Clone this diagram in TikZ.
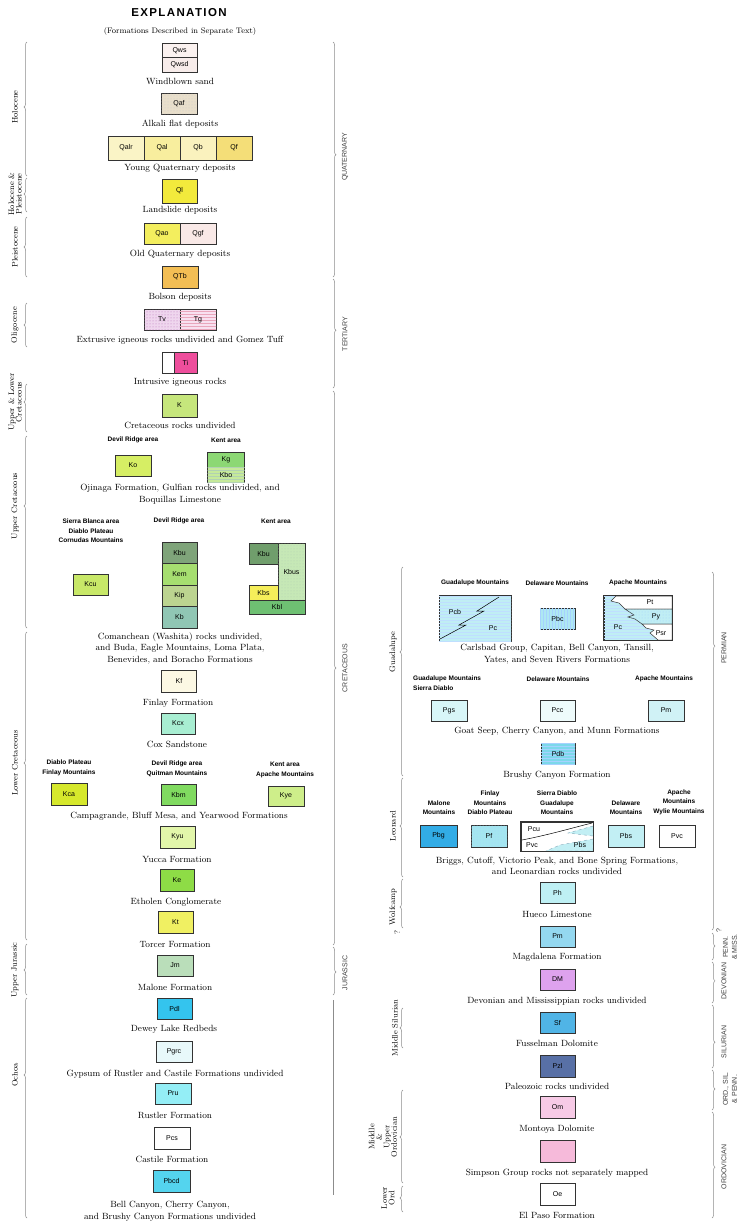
\documentclass[tikz,border=0pt]{standalone}
\usepackage{fontspec}
\setsansfont{Liberation Sans}
\newfontfamily\titlefont[LetterSpace=12]{Liberation Sans}
\usepackage{xcolor}
\usepackage{tikz}
\usetikzlibrary{patterns, decorations.pathreplacing}

\definecolor{cQws}{HTML}{FBF2F0}
\definecolor{cQwsd}{HTML}{F7ECEA}
\definecolor{cQaf}{HTML}{E9DFCB}
\definecolor{cQalr}{HTML}{FAF4C6}
\definecolor{cQal}{HTML}{F8EE9E}
\definecolor{cQb}{HTML}{FAF2BE}
\definecolor{cQf}{HTML}{F4DE78}
\definecolor{cQl}{HTML}{F2EA3C}
\definecolor{cQao}{HTML}{F3EE5E}
\definecolor{cQgf}{HTML}{F9E9E7}
\definecolor{cQTb}{HTML}{F3BE54}
\definecolor{cTv}{HTML}{EFD6EE}
\definecolor{cTg}{HTML}{F8E0F0}
\definecolor{cTi}{HTML}{EE4E9C}
\definecolor{cK}{HTML}{C6E67C}
\definecolor{cKo}{HTML}{D6EE64}
\definecolor{cKg}{HTML}{8CD874}
\definecolor{cKbo}{HTML}{C6EA9A}
\definecolor{cKcu}{HTML}{C8E868}
\definecolor{cKbuD}{HTML}{7FA47A}
\definecolor{cKem}{HTML}{A6DE70}
\definecolor{cKip}{HTML}{BCD490}
\definecolor{cKb}{HTML}{90C6B4}
\definecolor{cKbuK}{HTML}{709E6C}
\definecolor{cKbus}{HTML}{C6E8B6}
\definecolor{cKbs}{HTML}{F5EE5A}
\definecolor{cKbl}{HTML}{6EC072}
\definecolor{cKf}{HTML}{FCF8E4}
\definecolor{cKcx}{HTML}{A8EED2}
\definecolor{cKca}{HTML}{D6E82C}
\definecolor{cKbm}{HTML}{80DA60}
\definecolor{cKye}{HTML}{CEEE8A}
\definecolor{cKyu}{HTML}{E2F6AA}
\definecolor{cKe}{HTML}{8EDC46}
\definecolor{cKt}{HTML}{F0F062}
\definecolor{cJm}{HTML}{BADEBA}
\definecolor{cPdl}{HTML}{34C4EE}
\definecolor{cPgrc}{HTML}{E8F8FA}
\definecolor{cPru}{HTML}{94EEF6}
\definecolor{cPbcd}{HTML}{54D4EE}
\definecolor{cPcap}{HTML}{C0EEF4}
\definecolor{cPbc}{HTML}{AEE8F2}
\definecolor{cPgs}{HTML}{D8F6F8}
\definecolor{cPcc}{HTML}{EEFBFB}
\definecolor{cPm}{HTML}{D0F2F6}
\definecolor{cPdb}{HTML}{7CD8EA}
\definecolor{cPbg}{HTML}{32ACE6}
\definecolor{cPf}{HTML}{A4E6F0}
\definecolor{cPbs}{HTML}{C2EFF4}
\definecolor{cPh}{HTML}{BEF0F4}
\definecolor{cPmg}{HTML}{94D8F0}
\definecolor{cDM}{HTML}{DEA2EE}
\definecolor{cSf}{HTML}{50B4E6}
\definecolor{cPz}{HTML}{5870A6}
\definecolor{cOm}{HTML}{F7CAE6}
\definecolor{cOs}{HTML}{F6BADA}

\begin{document}
\begin{tikzpicture}[x=1pt, y=-1pt]

\tikzset{
    unit/.style={rectangle, draw=black!80, line width=0.6pt, fill=#1, minimum width=36pt,
                 minimum height=22pt, inner sep=0pt, font=\sffamily\fontsize{7}{8}\selectfont},
    lbl/.style={inner sep=0pt, font=\sffamily\fontsize{7}{8}\selectfont},
    captxt/.style={font=\fontsize{9}{11.5}\selectfont, align=center, inner sep=0pt},
    area/.style={font=\sffamily\bfseries\fontsize{6.5}{9.5}\selectfont, align=center, inner sep=0pt},
    age/.style={font=\fontsize{8}{7.5}\selectfont, rotate=90, align=center, inner sep=0pt},
    period/.style={font=\sffamily\fontsize{7}{9}\selectfont, rotate=90, align=center,
                   inner sep=0pt, text=black!75},
    brc/.style={draw=black!45, line width=0.5pt, decorate,
                decoration={brace, amplitude=3pt, aspect=#1}},
    hlines/.style={postaction={pattern=horizontal lines, pattern color=#1}},
    vlines/.style={postaction={pattern=vertical lines, pattern color=#1}},
    stipple/.style={postaction={pattern=dots, pattern color=#1}}
}

\fill[white] (0,0) rectangle (749,1224);
\useasboundingbox (0,0) rectangle (749,1224);

% ── title ──
\node[font=\titlefont\bfseries\fontsize{11.5}{13}\selectfont] (title) at (179, 13) {EXPLANATION};
\node[captxt, font=\fontsize{8}{10}\selectfont] (subtitle) at (180, 31) {(Formations Described in Separate Text)};

% ── Quaternary and Tertiary ──
\node[unit=cQws, minimum width=35pt, minimum height=14.5pt]  (Qws)  at (179.5, 50.5) {Qws};
\node[unit=cQwsd, minimum width=35pt, minimum height=14.5pt] (Qwsd) at (179.5, 65)   {Qwsd};
\node[captxt] (T1) at (180, 81) {Windblown sand};

\node[unit=cQaf, minimum height=21pt, stipple=black!20] (Qaf) at (179, 104) {Qaf};
\node[captxt] (T2) at (180, 124) {Alkali flat deposits};

\node[unit=cQalr, minimum height=24pt] (Qalr) at (126, 148) {Qalr};
\node[unit=cQal, minimum height=24pt]  (Qal)  at (162, 148) {Qal};
\node[unit=cQb, minimum height=24pt]   (Qb)   at (198, 148) {Qb};
\node[unit=cQf, minimum height=24pt]   (Qf)   at (234, 148) {Qf};
\node[captxt] (T3) at (180, 168) {Young Quaternary deposits};

\node[unit=cQl, minimum width=35pt, minimum height=24pt] (Ql) at (179.5, 191) {Ql};
\node[captxt] (T4) at (180, 210) {Landslide deposits};

\node[unit=cQao, minimum height=21pt] (Qao) at (162, 233.5) {Qao};
\node[unit=cQgf, minimum height=21pt] (Qgf) at (198, 233.5) {Qgf};
\node[captxt] (T5) at (180, 254) {Old Quaternary deposits};

\node[unit=cQTb] (QTb) at (180, 277) {QTb};
\node[captxt] (T6) at (180, 297) {Bolson deposits};

\node[unit=cTv, minimum height=21pt, stipple=violet!55] (Tv) at (162, 319.5) {Tv};
\node[unit=cTg, minimum height=21pt, hlines=purple!35]  (Tg) at (198, 319.5) {Tg};
\node[captxt] (T7) at (180, 340) {Extrusive igneous rocks undivided and Gomez Tuff};

\node[unit=white, minimum width=12pt, minimum height=21pt] (Tiw) at (168, 362.5) {};
\node[unit=cTi, minimum width=23pt, minimum height=21pt]   (Ti)  at (185.5, 362.5) {Ti};
\node[captxt] (T8) at (180, 382) {Intrusive igneous rocks};

% ── Cretaceous ──
\node[unit=cK, minimum width=35pt, minimum height=23pt] (K) at (179.5, 405.5) {K};
\node[captxt] (T9) at (180, 425) {Cretaceous rocks undivided};

\node[area] (A1) at (133, 440) {Devil Ridge area};
\node[area] (A2) at (226, 440) {Kent area};
\node[unit=cKo, minimum height=21pt] (Ko) at (133, 465.5) {Ko};
\node[unit=cKg, minimum width=37pt, minimum height=15pt] (Kg) at (226, 459.5) {Kg};
\node[unit=cKbo, minimum width=37pt, minimum height=15pt, hlines=green!40!black!30] (Kbo) at (226, 474.5) {Kbo};
\node[captxt] (T10) at (180, 494) {Ojinaga Formation, Gulfian rocks undivided, and\\Boquillas Limestone};

\node[area] (A3) at (91, 531) {Sierra Blanca area\\Diablo Plateau\\Cornudas Mountains};
\node[area] (A4) at (179, 521) {Devil Ridge area};
\node[area] (A5) at (276, 521) {Kent area};
\node[unit=cKcu, minimum width=35pt, minimum height=21pt] (Kcu) at (90.5, 584.5) {Kcu};
\node[unit=cKbuD, minimum width=35pt, minimum height=21.5pt] (KbuD) at (179.5, 552.75) {Kbu};
\node[unit=cKem, minimum width=35pt, minimum height=21.5pt]  (Kem)  at (179.5, 574.25) {Kem};
\node[unit=cKip, minimum width=35pt, minimum height=21.5pt]  (Kip)  at (179.5, 595.75) {Kip};
\node[unit=cKb, minimum width=35pt, minimum height=21.5pt]   (Kb)   at (179.5, 617.25) {Kb};
\node[unit=cKbuK, minimum width=29pt, minimum height=21pt] (KbuK) at (263.5, 553.5) {Kbu};
\node[unit=cKbus, minimum width=27pt, minimum height=57pt, stipple=green!40!black!30] (Kbus) at (291.5, 571.5) {Kbus};
\node[unit=cKbs, minimum width=29pt, minimum height=15pt] (Kbs) at (263.5, 592.5) {Kbs};
\node[unit=cKbl, minimum width=56pt, minimum height=14pt] (Kbl) at (277, 607) {Kbl};
\node[captxt] (T11) at (180, 648) {Comanchean (Washita) rocks undivided,\\and Buda, Eagle Mountains, Loma Plata,\\Benevides, and Boracho Formations};

\node[unit=cKf, minimum width=35pt] (Kf) at (179, 681) {Kf};
\node[captxt] (T12) at (178, 703) {Finlay Formation};
\node[unit=cKcx, minimum width=34pt, minimum height=21pt] (Kcx) at (178, 723.5) {Kcx};
\node[captxt] (T13) at (177, 744) {Cox Sandstone};

\node[area] (A6) at (69, 768)  {Diablo Plateau\\Finlay Mountains};
\node[area] (A7) at (177, 769) {Devil Ridge area\\Quitman Mountains};
\node[area] (A8) at (285, 770) {Kent area\\Apache Mountains};
\node[unit=cKca] (Kca) at (69, 794) {Kca};
\node[unit=cKbm, minimum width=35pt, minimum height=21pt] (Kbm) at (178.5, 794.5) {Kbm};
\node[unit=cKye, minimum height=20pt] (Kye) at (286, 796) {Kye};
\node[captxt] (T14) at (179, 816) {Campagrande, Bluff Mesa, and Yearwood Formations};

\node[unit=cKyu, minimum width=35pt] (Kyu) at (177.5, 837) {Kyu};
\node[captxt] (T15) at (177, 859) {Yucca Formation};
\node[unit=cKe, minimum width=34pt] (Ke) at (177, 880) {Ke};
\node[captxt] (T16) at (176, 902) {Etholen Conglomerate};
\node[unit=cKt, minimum width=35pt] (Kt) at (175.5, 922) {Kt};
\node[captxt] (T17) at (175, 944) {Torcer Formation};

% ── Jurassic and Ochoa ──
\node[unit=cJm, minimum height=21pt] (Jm) at (175, 965.5) {Jm};
\node[captxt] (T18) at (175, 987) {Malone Formation};
\node[unit=cPdl, minimum width=35pt, minimum height=21pt] (Pdl) at (174.5, 1008.5) {Pdl};
\node[captxt] (T19) at (174, 1029) {Dewey Lake Redbeds};
\node[unit=cPgrc, minimum height=21pt] (Pgrc) at (174, 1051.5) {Pgrc};
\node[captxt] (T20) at (175, 1074) {Gypsum of Rustler and Castile Formations undivided};
\node[unit=cPru, minimum height=21pt] (Pru) at (173, 1093.5) {Pru};
\node[captxt] (T21) at (175, 1115) {Rustler Formation};
\node[unit=white] (Pcs) at (172, 1138) {Pcs};
\node[captxt] (T22) at (172, 1159) {Castile Formation};
\node[unit=cPbcd, minimum width=37pt] (Pbcd) at (171.5, 1181) {Pbcd};
\node[captxt] (T23) at (170, 1211) {Bell Canyon, Cherry Canyon,\\and Brushy Canyon Formations undivided};

% ── Guadalupe ──
\node[area] (A9)  at (475, 583) {Guadalupe Mountains};
\node[area] (A10) at (557, 583) {Delaware Mountains};
\node[area] (A11) at (638, 583) {Apache Mountains};

\node[unit=cPcap, minimum width=72pt, minimum height=46pt, hlines=cyan!50!blue!25] (Gua) at (475, 618) {};
\draw[line width=0.5pt] (440,639) -- (466,625) -- (459,625) -- (484,611) -- (477,611) -- (499,597);
\node[lbl] (Pcb) at (455, 612) {Pcb};
\node[lbl] (PcG) at (493, 628) {Pc};

\node[unit=cPbc, minimum width=35pt, minimum height=21pt, vlines=cyan!50!blue!35] (Pbc) at (557.5, 618.5) {Pbc};

\node[unit=cPcap, minimum width=68pt, minimum height=44pt, hlines=cyan!50!blue!25] (Apa) at (638, 618) {};
\filldraw[fill=white, draw=black!80, line width=0.5pt]
    (616,596) -- (672,596) -- (672,609) -- (625,609) -- (619,603) -- (611,601) -- cycle;
\filldraw[fill=cPcap, draw=black!80, line width=0.5pt, postaction={pattern=dots, pattern color=cyan!50!blue!35}]
    (625,609) -- (672,609) -- (672,624) -- (642,624) -- (635,619) -- (628,617) -- (634,615) -- cycle;
\filldraw[fill=white, draw=black!80, line width=0.5pt]
    (642,624) -- (672,624) -- (672,640) -- (658,640) -- (650,633) -- (654,630) -- (646,628) -- cycle;
\draw[line width=0.6pt, draw=black!80] (Apa.north west) rectangle (Apa.south east);
\node[lbl] (Pt)  at (650, 602.5) {Pt};
\node[lbl] (Py)  at (656, 617) {Py};
\node[lbl] (PcA) at (618, 627) {Pc};
\node[lbl] (Psr) at (661, 633) {Psr};
\node[captxt] (T24) at (557, 654) {Carlsbad Group, Capitan, Bell Canyon, Tansill,\\Yates, and Seven Rivers Formations};

\node[area, align=left, anchor=west] (A12) at (413, 683) {Guadalupe Mountains\\Sierra Diablo};
\node[area] (A13) at (558, 679) {Delaware Mountains};
\node[area] (A14) at (664, 679) {Apache Mountains};
\node[unit=cPgs, minimum height=21pt] (Pgs) at (449, 710.5) {Pgs};
\node[unit=cPcc, minimum width=35pt, minimum height=21pt] (Pcc) at (557.5, 710.5) {Pcc};
\node[unit=cPm, minimum height=21pt] (PmA) at (666, 710.5) {Pm};
\node[captxt] (T25) at (557, 731) {Goat Seep, Cherry Canyon, and Munn Formations};

\node[unit=cPdb, minimum width=34pt, minimum height=21pt, hlines=cyan!50!blue!35] (Pdb) at (558, 753.5) {Pdb};
\node[captxt] (T26) at (557, 775) {Brushy Canyon Formation};

% ── Leonard ──
\node[area, anchor=south] (A15) at (439, 815) {Malone\\Mountains};
\node[area, anchor=south] (A16) at (490, 815) {Finlay\\Mountains\\Diablo Plateau};
\node[area, anchor=south] (A17) at (557, 815) {Sierra Diablo\\Guadalupe\\Mountains};
\node[area, anchor=south] (A18) at (626, 815) {Delaware\\Mountains};
\node[area, anchor=south] (A19) at (679, 815) {Apache\\Mountains\\Wylie Mountains};

\node[unit=cPbg, minimum width=37pt] (Pbg) at (438.5, 836) {Pbg};
\node[unit=cPf, stipple=cyan!50!blue!35] (Pf) at (489, 836) {Pf};
\node[unit=white, minimum width=72pt, minimum height=29pt] (SD) at (557, 836.5) {};
\filldraw[fill=cPbs, draw=cyan!50!black!60, line width=0.4pt, dashed]
    (593,826) -- (568,833) -- (593,836) -- cycle;
\filldraw[fill=cPbs, draw=cyan!50!black!60, line width=0.4pt, dashed]
    (593,839) -- (560,845) -- (546,851) -- (593,851) -- cycle;
\draw[line width=0.5pt] (522,840) .. controls (548,835) and (572,828) .. (592,823);
\draw[line width=0.6pt, draw=black!80] (SD.north west) rectangle (SD.south east);
\node[lbl] (Pcu)  at (534, 829) {Pcu};
\node[lbl] (PvcS) at (532, 845) {Pvc};
\node[lbl] (PbsS) at (580, 845) {Pbs};
\node[unit=cPbs] (Pbs) at (626, 836) {Pbs};
\node[unit=white] (Pvc) at (677, 836) {Pvc};
\node[captxt] (T27) at (557, 866) {Briggs, Cutoff, Victorio Peak, and Bone Spring Formations,\\and Leonardian rocks undivided};

% ── Wolfcamp to Ordovician ──
\node[unit=cPh, minimum width=35pt, minimum height=21pt] (Ph) at (557.5, 892.5) {Ph};
\node[captxt] (T28) at (557, 914) {Hueco Limestone};
\node[unit=cPmg, minimum width=35pt, minimum height=21pt] (PmM) at (557.5, 936.5) {Pm};
\node[captxt] (T29) at (557, 957) {Magdalena Formation};
\node[unit=cDM, minimum width=35pt, minimum height=21pt] (DM) at (557.5, 979.5) {DM};
\node[captxt] (T30) at (557, 1001) {Devonian and Mississippian rocks undivided};
\node[unit=cSf, minimum width=35pt, minimum height=21pt] (Sf) at (557.5, 1022.5) {Sf};
\node[captxt] (T31) at (557, 1043) {Fusselman Dolomite};
\node[unit=cPz, minimum width=35pt] (Pz) at (557.5, 1066) {Pzl};
\node[captxt] (T32) at (557, 1086) {Paleozoic rocks undivided};
\node[unit=cOm, minimum width=35pt] (Om) at (557.5, 1107.5) {Om};
\node[captxt] (T33) at (557, 1129) {Montoya Dolomite};
\node[unit=cOs, minimum width=35pt] (Os) at (557.5, 1151) {};
\node[captxt] (T34) at (557, 1173) {Simpson Group rocks not separately mapped};
\node[unit=white, minimum width=35pt] (Oe) at (557.5, 1194) {Oe};
\node[captxt] (T35) at (557, 1215) {El Paso Formation};

% ── age brackets, left column ──
\draw[brc=0.515] (27,176) -- (27,42);
\draw[brc=0.53]  (27,212) -- (27,178);
\draw[brc=0.5]   (27,277) -- (27,217);
\draw[brc=0.5]   (27,347) -- (27,303);
\draw[brc=0.625] (27,432) -- (27,384);
\draw[brc=0.635] (27,628) -- (27,436);
\draw[brc=0.575] (27,940) -- (27,632);
\draw[brc=0.49]  (27,995) -- (27,944);
\draw[brc=0.65]  (27,1218) -- (27,998);
\node[age] (H1) at (15, 107)  {Holocene};
\node[age] (H2) at (15, 194)  {Holocene \&\\Pleistocene};
\node[age] (H3) at (15, 247)  {Pleistocene};
\node[age] (H4) at (15, 325)  {Oligocene};
\node[age] (H5) at (15, 402)  {Upper \& Lower\\Cretaceous};
\node[age] (H6) at (15, 506)  {Upper Cretaceous};
\node[age] (H7) at (15, 763)  {Lower Cretaceous};
\node[age] (H8) at (15, 970)  {Upper Jurassic};
\node[age] (H9) at (15, 1075) {Ochoa};

\draw[brc=0.48] (333,42)  -- (333,277);
\draw[brc=0.47] (333,279) -- (333,388);
\draw[brc=0.5]  (333,391) -- (333,945);
\draw[brc=0.52] (333,947) -- (333,995);
\draw[draw=black!45, line width=0.5pt] (333,1000) -- (333,1195);
\node[period] (P1) at (345, 157) {QUATERNARY};
\node[period] (P2) at (345, 334) {TERTIARY};
\node[period] (P3) at (345, 668) {CRETACEOUS};
\node[period] (P4) at (345, 973) {JURASSIC};

% ── age brackets, right column ──
\draw[brc=0.593] (403,776)  -- (403,567);
\draw[brc=0.515] (403,877)  -- (403,778);
\draw[brc=0.43]  (403,928)  -- (403,879);
\draw[brc=0.5]   (403,1048) -- (403,1008);
\draw[brc=0.495] (403,1183) -- (403,1090);
\draw[brc=0.54]  (403,1212) -- (403,1186);
\node[age] (H10) at (393, 652)  {Guadalupe};
\node[age] (H11) at (393, 826)  {Leonard};
\node[age] (H12) at (393, 907)  {Wolfcamp};
\node[age] (Q1)  at (397, 932)  {?};
\node[age] (H13) at (395, 1028) {Middle Silurian};
\node[age] (H14) at (383, 1137) {Middle\\\&\\Upper\\Ordovician};
\node[age] (H15) at (388, 1198) {Lower\\Ord};

\draw[brc=0.207] (712,572)  -- (712,930);
\draw[brc=0.48]  (712,933)  -- (712,960);
\draw[brc=0.46]  (712,962)  -- (712,1003);
\draw[brc=0.59]  (712,1005) -- (712,1068);
\draw[brc=0.475] (712,1070) -- (712,1110);
\draw[brc=0.52]  (712,1112) -- (712,1218);
\node[period] (P5)  at (724, 648)  {PERMIAN};
\node[period] (Q2)  at (719, 931)  {?};
\node[period] (P6)  at (730, 947)  {PENN.\\\& MISS.};
\node[period] (P7)  at (724, 981)  {DEVONIAN};
\node[period] (P8)  at (724, 1042) {SILURIAN};
\node[period] (P9)  at (730, 1089) {ORD., SIL.\\\& PENN.};
\node[period] (P10) at (724, 1167) {ORDOVICIAN};

\end{tikzpicture}
\end{document}
